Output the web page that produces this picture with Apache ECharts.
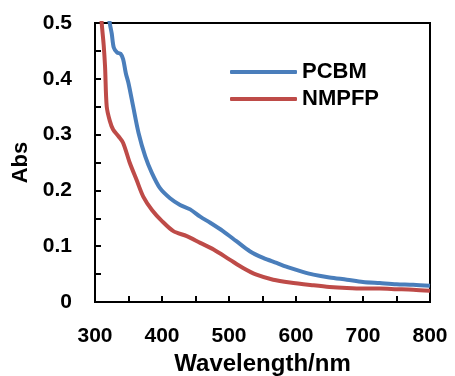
<!DOCTYPE html>
<html><head><meta charset="utf-8">
<script src="https://cdn.jsdelivr.net/npm/echarts@6/dist/echarts.min.js"></script>
<style>html,body{margin:0;padding:0;background:#fff}#c{width:455px;height:376px}</style>
</head><body><div id="c"></div>
<script>
var seriesNames = ['PCBM', 'NMPFP'];
var pcbmWavelength = [318,322,325,328,333,338,342,346,350,357,365,375,385,397,412,427,442,457,472,491,511,531,551,571,591,610,626,650,676,700,725,750,775,800];
var pcbmAbs = [0.54,0.50,0.481,0.456,0.447,0.445,0.435,0.41,0.392,0.35,0.303,0.261,0.231,0.204,0.186,0.174,0.166,0.153,0.142,0.127,0.109,0.091,0.079,0.070,0.061,0.054,0.049,0.044,0.040,0.036,0.034,0.032,0.031,0.029];
var nmpfpWavelength = [308,310,313,315,317.5,322,327,335,342,352,362,372,385,400,417,437,457,477,501,521,541,566,591,626,650,676,700,725,750,775,800];
var nmpfpAbs = [0.54,0.50,0.46,0.422,0.35,0.325,0.309,0.297,0.285,0.249,0.219,0.189,0.165,0.145,0.127,0.118,0.106,0.094,0.076,0.061,0.049,0.040,0.035,0.030,0.027,0.025,0.024,0.024,0.023,0.022,0.020];
var colors = ['#4a7ebb', '#be4b48'];

function pairs(xs, ys){ return xs.map(function(x,i){ return [x, ys[i]]; }); }
var FONT = "'Liberation Sans', Arial, sans-serif";
var chart = echarts.init(document.getElementById('c'), null, {renderer:'canvas'});
chart.setOption({
  animation:false,
  grid:{left:95, right:25, top:23, bottom:74, containLabel:false, outerBoundsMode:'none',
        show:true, borderColor:'#000', borderWidth:2},
  legend:{
    orient:'vertical', left:225, top:56, itemWidth:67, itemHeight:4, itemGap:5,
    icon:'roundRect',
    textStyle:{fontFamily:FONT, fontWeight:'bold', fontSize:22, color:'#000'},
    data:seriesNames
  },
  xAxis:{
    type:'value', min:300, max:800, interval:100,
    name:'Wavelength/nm', nameLocation:'middle', nameGap:46,
    nameTextStyle:{fontFamily:FONT, fontWeight:'bold', fontSize:24, color:'#000'},
    axisLine:{lineStyle:{color:'#000', width:2}},
    axisTick:{inside:true, length:6, lineStyle:{width:2}},
    minorTick:{show:true, splitNumber:2, length:6, lineStyle:{color:'#000', width:2}},
    axisLabel:{fontFamily:FONT, fontWeight:'bold', fontSize:21, color:'#000', margin:24},
    splitLine:{show:false}
  },
  yAxis:{
    type:'value', min:0, max:0.5, interval:0.1,
    name:'Abs', nameLocation:'middle', nameGap:62, nameRotate:90,
    nameTextStyle:{fontFamily:FONT, fontWeight:'bold', fontSize:22, color:'#000'},
    axisLine:{lineStyle:{color:'#000', width:2}},
    axisTick:{inside:true, length:6, lineStyle:{width:2}},
    minorTick:{show:true, splitNumber:2, length:6, lineStyle:{color:'#000', width:2}},
    axisLabel:{fontFamily:FONT, fontWeight:'bold', fontSize:21, color:'#000', margin:23},
    splitLine:{show:false}
  },
  series:[
    {name:seriesNames[0], type:'line', data:pairs(pcbmWavelength, pcbmAbs), showSymbol:false, symbol:'none', smooth:0.3, clip:true,
     color:colors[0], lineStyle:{width:4, color:colors[0]}},
    {name:seriesNames[1], type:'line', data:pairs(nmpfpWavelength, nmpfpAbs), showSymbol:false, symbol:'none', smooth:0.3, clip:true,
     color:colors[1], lineStyle:{width:4, color:colors[1]}}
  ]
});
</script></body></html>
